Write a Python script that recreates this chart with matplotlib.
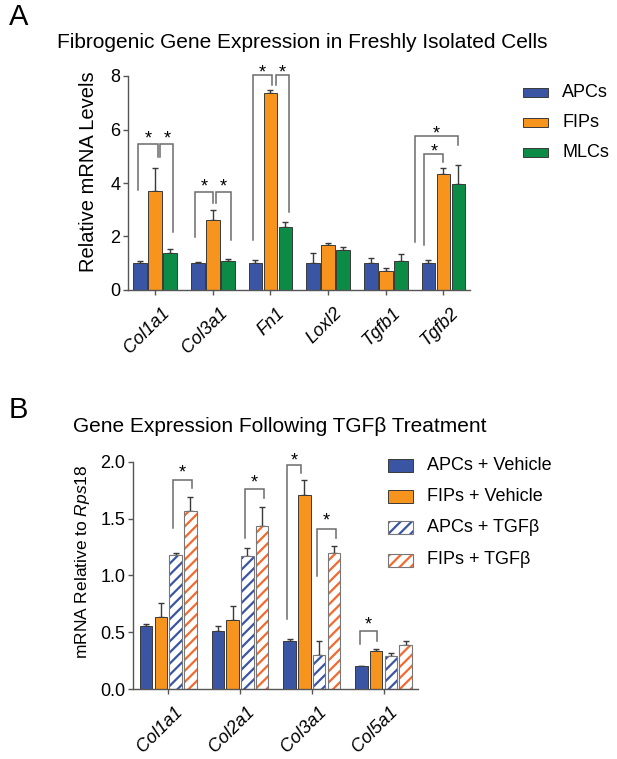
import matplotlib
matplotlib.use('Agg')
import matplotlib.pyplot as plt
from matplotlib.patches import Rectangle
from matplotlib.transforms import ScaledTranslation
import numpy as np

plt.rcParams['font.family'] = ['Liberation Sans', 'DejaVu Sans']
plt.rcParams['hatch.linewidth'] = 1.6
plt.rcParams['mathtext.fontset'] = 'custom'
plt.rcParams['mathtext.rm'] = 'Liberation Sans'
plt.rcParams['mathtext.it'] = 'Liberation Sans:italic'

# ---------------- data: panel A ----------------
genes_a = ['Col1a1', 'Col3a1', 'Fn1', 'Loxl2', 'Tgfb1', 'Tgfb2']
series_a = ['APCs', 'FIPs', 'MLCs']
apc_a = [1.0, 1.0, 1.0, 1.0, 1.0, 1.0]
apc_a_err = [0.07, 0.04, 0.12, 0.40, 0.21, 0.11]
fip_a = [3.70, 2.60, 7.36, 1.67, 0.72, 4.34]
fip_a_err = [0.85, 0.38, 0.10, 0.09, 0.10, 0.22]
mlc_a = [1.40, 1.08, 2.37, 1.48, 1.08, 3.96]
mlc_a_err = [0.12, 0.09, 0.17, 0.14, 0.28, 0.72]
yticks_a = [0, 2, 4, 6, 8]

# ---------------- data: panel B ----------------
genes_b = ['Col1a1', 'Col2a1', 'Col3a1', 'Col5a1']
series_b = ['APCs + Vehicle', 'FIPs + Vehicle', 'APCs + TGFβ', 'FIPs + TGFβ']
apc_veh = [0.55, 0.51, 0.42, 0.20]
apc_veh_err = [0.02, 0.04, 0.02, 0.005]
fip_veh = [0.63, 0.61, 1.71, 0.33]
fip_veh_err = [0.13, 0.12, 0.13, 0.02]
apc_tgf = [1.18, 1.17, 0.30, 0.29]
apc_tgf_err = [0.02, 0.07, 0.12, 0.03]
fip_tgf = [1.57, 1.43, 1.20, 0.385]
fip_tgf_err = [0.12, 0.17, 0.06, 0.035]
yticks_b = [0.0, 0.5, 1.0, 1.5, 2.0]

# ---------------- styles ----------------
BLUE = '#3b55a5'
ORANGE = '#f7941e'
GREEN = '#0b8b45'
HBLUE = '#3b55a5'
HORANGE = '#f26a2e'
EDGE = '#3a3a3a'
AXC = '#555555'
BRC = '#6b6b6b'
FS = 13

W, H = 617, 759
fig = plt.figure(figsize=(W / 100, H / 100), dpi=100)


def fx(px):
    return px / W


def fy(py):
    return 1 - py / H


def style_axes(ax):
    for s in ['top', 'right']:
        ax.spines[s].set_visible(False)
    for s in ['left', 'bottom']:
        ax.spines[s].set_color(AXC)
        ax.spines[s].set_linewidth(1.0)
    ax.tick_params(axis='both', direction='out', length=3.5, width=1.0,
                   color=AXC, labelsize=FS, pad=2)


def shift_xlabels(ax, dx_px, dy_px):
    off = ScaledTranslation(dx_px / 100, dy_px / 100, fig.dpi_scale_trans)
    for lab in ax.get_xticklabels():
        lab.set_transform(lab.get_transform() + off)


def star(ax, x, yc):
    ax.annotate('*', xy=(x, yc), xytext=(0, -0.6 * FS), textcoords='offset points',
                ha='center', va='baseline', fontsize=FS, annotation_clip=False)


def bracket(ax, x1, x2, ytop, y1, y2, ystar=None):
    ax.plot([x1, x1, x2, x2], [y1, ytop, ytop, y2], color=BRC, lw=1.1,
            clip_on=False, solid_joinstyle='miter')
    if ystar is not None:
        star(ax, (x1 + x2) / 2, ystar)


# ================= Panel A =================
axA = fig.add_axes([fx(128), fy(290), fx(470) - fx(128), fy(76) - fy(290)])
style_axes(axA)
xa = np.arange(len(genes_a))
wa = 0.235
offs_a = [-0.26, 0.0, 0.26]
vals_a = [apc_a, fip_a, mlc_a]
errs_a = [apc_a_err, fip_a_err, mlc_a_err]
cols_a = [BLUE, ORANGE, GREEN]
for v, e, c, o in zip(vals_a, errs_a, cols_a, offs_a):
    axA.bar(xa + o, v, wa, color=c, edgecolor=EDGE, linewidth=0.7, zorder=2)
    axA.errorbar(xa + o, v, yerr=[np.zeros(len(v)), e], fmt='none', ecolor=EDGE,
                 elinewidth=1.0, capsize=2.2, capthick=1.0, zorder=1)
axA.set_xlim(-0.47, 5.46)
axA.set_ylim(0, 8)
axA.set_yticks(yticks_a)
axA.set_xticks(xa)
axA.set_xticklabels(genes_a, rotation=45, ha='right', rotation_mode='anchor',
                    style='italic', fontsize=FS)
shift_xlabels(axA, 6, -7)
axA.set_ylabel('Relative mRNA Levels', fontsize=14.5)
axA.yaxis.set_label_coords(-0.088, 0.554)

# significance brackets (panel A)
bracket(axA, 0 - 0.29, 0 + 0.05, 5.45, 3.75, 4.98, 5.87)
bracket(axA, 0 + 0.09, 0 + 0.315, 5.45, 4.98, 2.18, 5.87)
bracket(axA, 1 - 0.31, 1 + 0.01, 3.65, 1.99, 3.25, 4.09)
bracket(axA, 1 + 0.06, 1 + 0.31, 3.65, 3.25, 1.87, 4.09)
bracket(axA, 2 - 0.30, 2 + 0.03, 8.02, 1.87, 7.66, 8.35)
bracket(axA, 2 + 0.09, 2 + 0.33, 8.02, 7.66, 2.93, 8.35)
bracket(axA, 5 - 0.49, 5 + 0.255, 5.76, 1.81, 5.42, 6.07)
bracket(axA, 5 - 0.33, 5 + 0.0, 5.10, 1.68, 4.77, 5.38)

fig.text(fx(57), fy(42), 'Fibrogenic Gene Expression in Freshly Isolated Cells',
         fontsize=15, ha='left', va='center')
fig.text(fx(9), fy(17), 'A', fontsize=21, ha='left', va='center')

# legend A
for i, (lab, c) in enumerate(zip(series_a, cols_a)):
    yc = [92.8, 122.2, 152.8][i]
    fig.add_artist(Rectangle((fx(523), fy(yc + 4.5)), fx(25), 9 / H,
                             facecolor=c, edgecolor=EDGE, linewidth=0.7,
                             transform=fig.transFigure))
    fig.text(fx(562), fy(yc), lab, fontsize=FS, ha='left', va='center')

# ================= Panel B =================
axB = fig.add_axes([fx(133), fy(689), fx(418) - fx(133), fy(461.7) - fy(689)])
style_axes(axB)
xb = np.arange(len(genes_b))
wb = 0.174
offs_b = [-0.309, -0.103, 0.103, 0.309]
vals_b = [apc_veh, fip_veh, apc_tgf, fip_tgf]
errs_b = [apc_veh_err, fip_veh_err, apc_tgf_err, fip_tgf_err]
fills_b = [BLUE, ORANGE, 'white', 'white']
hatch_cols = [None, None, HBLUE, HORANGE]
for v, e, fc, hc, o in zip(vals_b, errs_b, fills_b, hatch_cols, offs_b):
    if hc is None:
        axB.bar(xb + o, v, wb, color=fc, edgecolor=EDGE, linewidth=0.7, zorder=2)
    else:
        axB.bar(xb + o, v, wb, color='white', edgecolor=hc, hatch='///',
                linewidth=0, zorder=2)
        axB.bar(xb + o, v, wb, color='none', edgecolor='#777777', linewidth=0.8,
                zorder=3)
    axB.errorbar(xb + o, v, yerr=[np.zeros(len(v)), e], fmt='none', ecolor=EDGE,
                 elinewidth=1.0, capsize=2.2, capthick=1.0, zorder=1)
axB.set_xlim(-0.49, 3.48)
axB.set_ylim(0, 2.0)
axB.set_yticks(yticks_b)
axB.set_yticklabels([f'{t:.1f}' for t in yticks_b])
axB.set_xticks(xb)
axB.set_xticklabels(genes_b, rotation=45, ha='right', rotation_mode='anchor',
                    style='italic', fontsize=FS)
shift_xlabels(axB, 6, -7)
axB.set_ylabel('mRNA Relative to $\\mathit{Rps18}$', fontsize=12.5)
axB.yaxis.set_label_coords(-0.144, 0.559)

# significance brackets (panel B)
bracket(axB, 0 + 0.061, 0 + 0.326, 1.84, 1.42, 1.77, 1.96)
bracket(axB, 1 + 0.072, 1 + 0.337, 1.76, 1.33, 1.68, 1.87)
bracket(axB, 2 - 0.345, 2 - 0.146, 1.97, 0.62, 1.90, 2.06)
bracket(axB, 2 + 0.072, 2 + 0.341, 1.41, 0.99, 1.33, 1.53)
bracket(axB, 3 - 0.334, 3 - 0.088, 0.51, 0.40, 0.42, 0.62)

fig.text(fx(73), fy(426), 'Gene Expression Following TGFβ Treatment',
         fontsize=15, ha='left', va='center')
fig.text(fx(9), fy(410), 'B', fontsize=21, ha='left', va='center')

# legend B
leg_y = [466, 496.5, 527.3, 560]
for i, lab in enumerate(series_b):
    yc = leg_y[i]
    r = (fx(388), fy(yc + 6.5))
    if hatch_cols[i] is None:
        fig.add_artist(Rectangle(r, fx(25), 13 / H, facecolor=fills_b[i],
                                 edgecolor=EDGE, linewidth=0.7,
                                 transform=fig.transFigure))
    else:
        fig.add_artist(Rectangle(r, fx(25), 13 / H, facecolor='white',
                                 edgecolor=hatch_cols[i], hatch='///', linewidth=0,
                                 transform=fig.transFigure))
        fig.add_artist(Rectangle(r, fx(25), 13 / H, facecolor='none',
                                 edgecolor='#777777', linewidth=0.8,
                                 transform=fig.transFigure))
    fig.text(fx(427), fy(yc), lab, fontsize=FS, ha='left', va='center')

fig.savefig('out.png', dpi=100, facecolor='white')
